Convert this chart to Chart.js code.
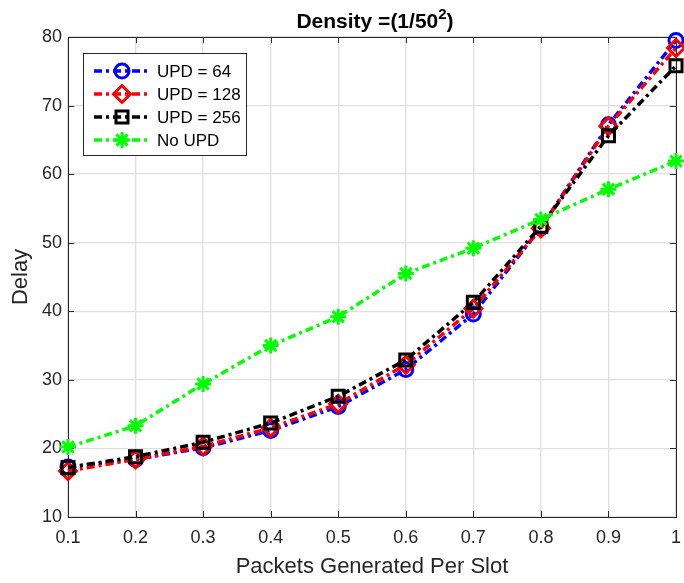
<!DOCTYPE html>
<html>
<head>
<meta charset="utf-8">
<script src="https://cdn.jsdelivr.net/npm/chart.js@4/dist/chart.umd.min.js"></script>
<style>
  body { margin: 0; background: #fff; }
  canvas { display: block; }
</style>
</head>
<body>
<canvas id="delayChart" width="684" height="583"></canvas>
<script>
// valores
const xLabels = ['0.1', '0.2', '0.3', '0.4', '0.5', '0.6', '0.7', '0.8', '0.9', '1'];
const upd64 = [17.3, 18.4, 20.1, 22.6, 26.1, 31.5, 39.6, 52.2, 67.2, 79.5];
const upd128 = [16.7, 18.4, 20.3, 23.0, 26.5, 32.2, 40.4, 52.1, 67.0, 78.4];
const upd256 = [17.2, 18.8, 20.9, 23.7, 27.6, 32.9, 41.3, 52.4, 65.6, 75.8];
const noUpd = [20.2, 23.3, 29.4, 35.0, 39.2, 45.5, 49.2, 53.4, 57.8, 61.9];
const seriesNames = ['UPD = 64', 'UPD = 128', 'UPD = 256', 'No UPD'];
// titulo em partes: texto, expoente, fecho
const titleParts = ['Density =(1/50', '2', ')'];

const dashDot = [8, 4, 3, 4];
const axisColor = '#262626';

function serie(label, data, color, style, radius, order) {
    return {
        label: label,
        data: data,
        borderColor: color,
        borderWidth: 3.5,
        borderDash: dashDot,
        pointStyle: style,
        pointRadius: radius,
        pointBorderWidth: 3,
        pointBorderColor: color,
        pointBackgroundColor: 'rgba(0,0,0,0)',
        tension: 0,
        fill: false,
        clip: false,
        order: order
    };
}

// caixa dos eixos com marcas para dentro (estilo matlab)
const boxPlugin = {
    id: 'boxPlugin',
    beforeDatasetsDraw(chart) {
        const ctx = chart.ctx;
        const a = chart.chartArea;
        const xs = chart.scales.x;
        const ys = chart.scales.y;
        const len = 6;
        ctx.save();
        ctx.strokeStyle = axisColor;
        ctx.lineWidth = 1;
        ctx.setLineDash([]);
        ctx.beginPath();
        xs.ticks.forEach((t, i) => {
            const px = Math.round(xs.getPixelForTick(i)) + 0.5;
            ctx.moveTo(px, a.bottom); ctx.lineTo(px, a.bottom - len);
            ctx.moveTo(px, a.top); ctx.lineTo(px, a.top + len);
        });
        ys.ticks.forEach(t => {
            const py = Math.round(ys.getPixelForValue(t.value)) + 0.5;
            ctx.moveTo(a.left, py); ctx.lineTo(a.left + len, py);
            ctx.moveTo(a.right, py); ctx.lineTo(a.right - len, py);
        });
        ctx.stroke();
        ctx.strokeRect(Math.round(a.left) + 0.5, Math.round(a.top) + 0.5,
            Math.round(a.right - a.left), Math.round(a.bottom - a.top));
        ctx.restore();
    }
};

// titulo e legenda dentro do grafico
const legendPlugin = {
    id: 'legendPlugin',
    afterDraw(chart) {
        const ctx = chart.ctx;
        const a = chart.chartArea;
        ctx.save();
        ctx.fillStyle = '#000';
        ctx.textBaseline = 'alphabetic';
        ctx.textAlign = 'left';
        const bigFont = 'bold 21px "Liberation Sans", Arial, sans-serif';
        const supFont = 'bold 15px "Liberation Sans", Arial, sans-serif';
        ctx.font = bigFont;
        const w0 = ctx.measureText(titleParts[0]).width;
        const w2 = ctx.measureText(titleParts[2]).width;
        ctx.font = supFont;
        const w1 = ctx.measureText(titleParts[1]).width;
        let tx = (a.left + a.right) / 2 + 3 - (w0 + w1 + w2) / 2;
        ctx.font = bigFont;
        ctx.fillText(titleParts[0], tx, 28);
        ctx.font = supFont;
        ctx.fillText(titleParts[1], tx + w0, 19);
        ctx.font = bigFont;
        ctx.fillText(titleParts[2], tx + w0 + w1, 28);

        const bx = 83, by = 53, bw = 163, bh = 102;
        ctx.fillStyle = '#fff';
        ctx.fillRect(bx, by, bw, bh);
        ctx.strokeStyle = axisColor;
        ctx.lineWidth = 1;
        ctx.strokeRect(bx + 0.5, by + 0.5, bw, bh);

        const rows = [71, 94, 117, 140];
        ctx.font = '17px "Liberation Sans", Arial, sans-serif';
        ctx.textAlign = 'left';
        ctx.textBaseline = 'middle';
        chart.data.datasets.forEach((ds, i) => {
            const y = rows[i];
            ctx.strokeStyle = ds.borderColor;
            ctx.lineWidth = ds.borderWidth;
            ctx.setLineDash(ds.borderDash);
            ctx.beginPath();
            ctx.moveTo(94, y);
            ctx.lineTo(150, y);
            ctx.stroke();
            ctx.setLineDash([]);
            ctx.lineWidth = ds.pointBorderWidth;
            ctx.fillStyle = 'rgba(0,0,0,0)';
            Chart.helpers.drawPoint(ctx, {
                pointStyle: ds.pointStyle,
                radius: ds.pointRadius,
                rotation: 0,
                borderWidth: ds.pointBorderWidth
            }, 122, y);
            ctx.fillStyle = '#000';
            ctx.fillText(ds.label, 157, y + 1);
        });
        ctx.restore();
    }
};

new Chart(document.getElementById('delayChart'), {
    type: 'line',
    data: {
        labels: xLabels,
        datasets: [
            serie(seriesNames[0], upd64, '#0000ff', 'circle', 7, 4),
            serie(seriesNames[1], upd128, '#ff0000', 'rectRot', 8.5, 3),
            serie(seriesNames[2], upd256, '#000000', 'rect', 8.5, 2),
            serie(seriesNames[3], noUpd, '#00ff00', 'star', 8, 1)
        ]
    },
    options: {
        responsive: false,
        animation: false,
        devicePixelRatio: 1,
        events: [],
        layout: {
            autoPadding: false,
            padding: { top: 37, right: 8, left: 0, bottom: 0 }
        },
        plugins: {
            legend: { display: false },
            title: { display: false },
            tooltip: { enabled: false }
        },
        scales: {
            x: {
                type: 'category',
                offset: false,
                grid: { color: '#dfdfdf', lineWidth: 1.3, drawTicks: false, offset: false },
                border: { display: false },
                ticks: {
                    color: axisColor,
                    font: { family: '"Liberation Sans", Arial, sans-serif', size: 18 },
                    padding: 10,
                    maxRotation: 0,
                    autoSkip: false
                },
                title: {
                    display: true,
                    text: 'Packets Generated Per Slot',
                    color: axisColor,
                    font: { family: '"Liberation Sans", Arial, sans-serif', size: 22 },
                    padding: { top: 0, bottom: 3 }
                },
                afterFit: s => {
                    s.height = 66;
                    s.paddingLeft = 0;
                    s.paddingRight = 0;
                }
            },
            y: {
                min: 10,
                max: 80,
                grid: { color: '#dfdfdf', lineWidth: 1.3, drawTicks: false },
                border: { display: false },
                ticks: {
                    stepSize: 10,
                    color: axisColor,
                    font: { family: '"Liberation Sans", Arial, sans-serif', size: 18 },
                    padding: 6
                },
                title: {
                    display: true,
                    text: 'Delay',
                    color: axisColor,
                    font: { family: '"Liberation Sans", Arial, sans-serif', size: 22 },
                    padding: { top: 8, bottom: 0 }
                },
                afterFit: s => {
                    s.width = 68;
                    s.paddingTop = 0;
                    s.paddingBottom = 0;
                }
            }
        }
    },
    plugins: [boxPlugin, legendPlugin]
});
</script>
</body>
</html>
